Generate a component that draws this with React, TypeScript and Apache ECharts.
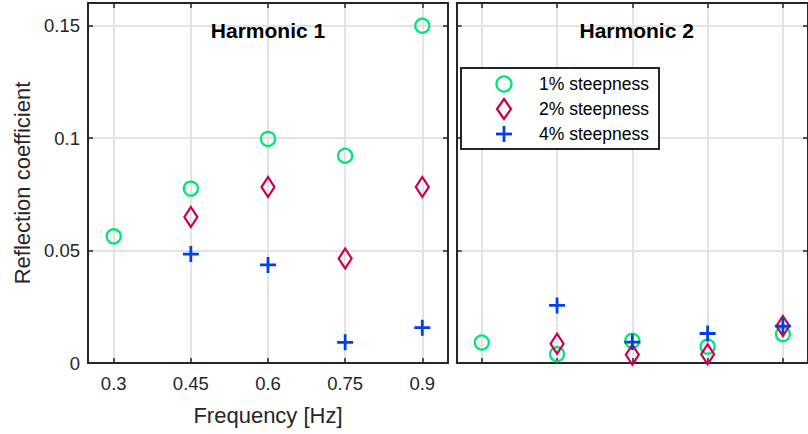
import React, { useEffect, useRef } from "react";
import * as echarts from "echarts";

// Wave frequencies (Hz) at which the reflection coefficient was measured
const freqs = [0.3, 0.45, 0.6, 0.75, 0.9];
const xTicks = [0.3, 0.45, 0.6, 0.75, 0.9];
const yTicks = [0, 0.05, 0.1, 0.15];
const seriesNames = ["1% steepness", "2% steepness", "4% steepness"];
const panelTitles = ["Harmonic 1", "Harmonic 2"];

// Harmonic 1 reflection coefficients
const h1Steep1 = [0.0563, 0.0775, 0.0996, 0.0921, 0.1499];
const h1Steep2 = [null, 0.0649, 0.0782, 0.0464, 0.0782];
const h1Steep4 = [null, 0.0484, 0.0436, 0.0092, 0.0157];

// Harmonic 2 reflection coefficients
const h2Steep1 = [0.0091, 0.0039, 0.0099, 0.0073, 0.0128];
const h2Steep2 = [null, 0.0086, 0.0037, 0.0039, 0.0164];
const h2Steep4 = [null, 0.0256, 0.0093, 0.0131, 0.0164];

const FONT = "Arial, 'Liberation Sans', Helvetica, sans-serif";
const AXIS_COLOR = "#262626";
const GRID_COLOR = "#e3e3e3";
const GREEN = "#00e676";
const CRIMSON = "#cc0050";
const BLUE = "#0040e6";

const PLUS_PATH =
  "path://M6.6,0L9.4,0L9.4,6.6L16,6.6L16,9.4L9.4,9.4L9.4,16L6.6,16L6.6,9.4L0,9.4L0,6.6L6.6,6.6Z";

const toPairs = (vals: (number | null)[]) =>
  freqs
    .map((f, i) => (vals[i] == null ? null : [f, vals[i] as number]))
    .filter((p) => p !== null) as number[][];

// Panel geometry
const PANEL_W = 360;
const PANEL_H = 360;
const PANEL_TOP = 3;
const PANEL_LEFTS = [88, 456.7];

function buildAxes(gridIndex: number, withLabels: boolean) {
  const line = {
    show: true,
    onZero: false,
    lineStyle: { color: AXIS_COLOR, width: 2 },
  };
  const tick = (vals: number[]) => ({
    show: true,
    inside: true,
    length: 5,
    customValues: vals,
    lineStyle: { color: AXIS_COLOR, width: 1.5 },
  });
  const xBottom = {
    type: "value",
    gridIndex,
    position: "bottom",
    min: 0.25,
    max: 0.95,
    axisLine: line,
    axisTick: tick(xTicks),
    axisLabel: {
      show: withLabels,
      customValues: xTicks,
      margin: 11,
      fontSize: 18.5,
      fontFamily: FONT,
      color: AXIS_COLOR,
      formatter: (v: number) => String(v),
    },
    splitLine: { show: true, lineStyle: { color: GRID_COLOR, width: 2 } },
    name: withLabels ? "Frequency [Hz]" : "",
    nameLocation: "middle",
    nameGap: 41,
    nameTextStyle: { fontSize: 22, fontFamily: FONT, color: AXIS_COLOR },
  };
  const xTop = {
    type: "value",
    gridIndex,
    position: "top",
    min: 0.25,
    max: 0.95,
    axisLine: line,
    axisTick: tick(xTicks),
    axisLabel: { show: false },
    splitLine: { show: false },
  };
  const yLeft = {
    type: "value",
    gridIndex,
    position: "left",
    min: 0,
    max: 0.16,
    axisLine: line,
    axisTick: tick(yTicks),
    axisLabel: {
      show: withLabels,
      customValues: yTicks,
      margin: 8,
      fontSize: 18.5,
      fontFamily: FONT,
      color: AXIS_COLOR,
      formatter: (v: number) => String(v),
    },
    splitLine: {
      show: true,
      showMinLine: false,
      lineStyle: { color: GRID_COLOR, width: 2 },
    },
    name: withLabels ? "Reflection coefficient" : "",
    nameLocation: "middle",
    nameGap: 55,
    nameTextStyle: { fontSize: 22, fontFamily: FONT, color: AXIS_COLOR },
  };
  const yRight = {
    type: "value",
    gridIndex,
    position: "right",
    min: 0,
    max: 0.16,
    axisLine: line,
    axisTick: tick(yTicks),
    axisLabel: { show: false },
    splitLine: { show: false },
  };
  return { xs: [xBottom, xTop], ys: [yLeft, yRight] };
}

function buildSeries(panel: number, data: (number | null)[][]) {
  const axisIdx = panel * 2;
  const base = {
    type: "scatter",
    xAxisIndex: axisIdx,
    yAxisIndex: axisIdx,
    clip: false,
  };
  return [
    {
      ...base,
      name: seriesNames[0],
      data: toPairs(data[0]),
      symbol: "circle",
      symbolSize: 14,
      itemStyle: {
        color: "none",
        borderColor: GREEN,
        borderWidth: 2.3,
        opacity: 1,
      },
      z: 2,
    },
    {
      ...base,
      name: seriesNames[1],
      data: toPairs(data[1]),
      symbol: "diamond",
      symbolSize: [13, 20],
      itemStyle: {
        color: "none",
        borderColor: CRIMSON,
        borderWidth: 2.3,
        opacity: 1,
      },
      z: 3,
    },
    {
      ...base,
      name: seriesNames[2],
      data: toPairs(data[2]),
      symbol: PLUS_PATH,
      symbolSize: 16,
      itemStyle: { color: BLUE, borderWidth: 0, opacity: 1 },
      z: 4,
    },
  ];
}

function legendGraphic() {
  const left = 461;
  const top = 68;
  const rows = [84, 109, 134];
  const mx = 504;
  const tx = 539;
  const Z = 100;
  const label = (text: string, y: number) => ({
    type: "text",
    z: Z + 1,
    x: tx,
    y,
    style: {
      text,
      fill: "#000",
      font: `17.5px ${FONT}`,
      textAlign: "left",
      textVerticalAlign: "middle",
    },
  });
  return [
    {
      type: "rect",
      z: Z,
      shape: { x: left, y: top, width: 198, height: 81 },
      style: { fill: "#fff", stroke: AXIS_COLOR, lineWidth: 2 },
    },
    {
      type: "circle",
      z: Z + 1,
      shape: { cx: mx, cy: rows[0], r: 7.5 },
      style: { fill: "none", stroke: GREEN, lineWidth: 2.3 },
    },
    {
      type: "polygon",
      z: Z + 1,
      shape: {
        points: [
          [mx, rows[1] - 10],
          [mx + 7, rows[1]],
          [mx, rows[1] + 10],
          [mx - 7, rows[1]],
        ],
      },
      style: { fill: "none", stroke: CRIMSON, lineWidth: 2.3 },
    },
    {
      type: "line",
      z: Z + 1,
      shape: { x1: mx - 8, y1: rows[2], x2: mx + 8, y2: rows[2] },
      style: { stroke: BLUE, lineWidth: 2.8 },
    },
    {
      type: "line",
      z: Z + 1,
      shape: { x1: mx, y1: rows[2] - 8, x2: mx, y2: rows[2] + 8 },
      style: { stroke: BLUE, lineWidth: 2.8 },
    },
    label(seriesNames[0], rows[0]),
    label(seriesNames[1], rows[1]),
    label(seriesNames[2], rows[2]),
  ];
}

export default function App() {
  const ref = useRef<HTMLDivElement>(null);

  useEffect(() => {
    if (!ref.current) return;
    const chart = echarts.init(ref.current, undefined, { renderer: "svg" });

    const a0 = buildAxes(0, true);
    const a1 = buildAxes(1, false);

    const option = {
      animation: false,
      backgroundColor: "#fff",
      grid: PANEL_LEFTS.map((left) => ({
        left,
        top: PANEL_TOP,
        width: PANEL_W,
        height: PANEL_H,
        containLabel: false,
      })),
      xAxis: [...a0.xs, ...a1.xs],
      yAxis: [...a0.ys, ...a1.ys],
      series: [
        ...buildSeries(0, [h1Steep1, h1Steep2, h1Steep4]),
        ...buildSeries(1, [h2Steep1, h2Steep2, h2Steep4]),
      ],
      graphic: [
        ...panelTitles.map((t, i) => ({
          type: "text",
          x: PANEL_LEFTS[i] + PANEL_W / 2,
          y: 30.5,
          z: 100,
          style: {
            text: t,
            fill: "#000",
            font: `bold 21px ${FONT}`,
            textAlign: "center",
            textVerticalAlign: "middle",
          },
        })),
        ...legendGraphic(),
      ],
    };

    chart.setOption(option as any);
    return () => chart.dispose();
  }, []);

  return (
    <div
      ref={ref}
      style={{ position: "absolute", left: 0, top: 0, width: 808, height: 434 }}
    />
  );
}
